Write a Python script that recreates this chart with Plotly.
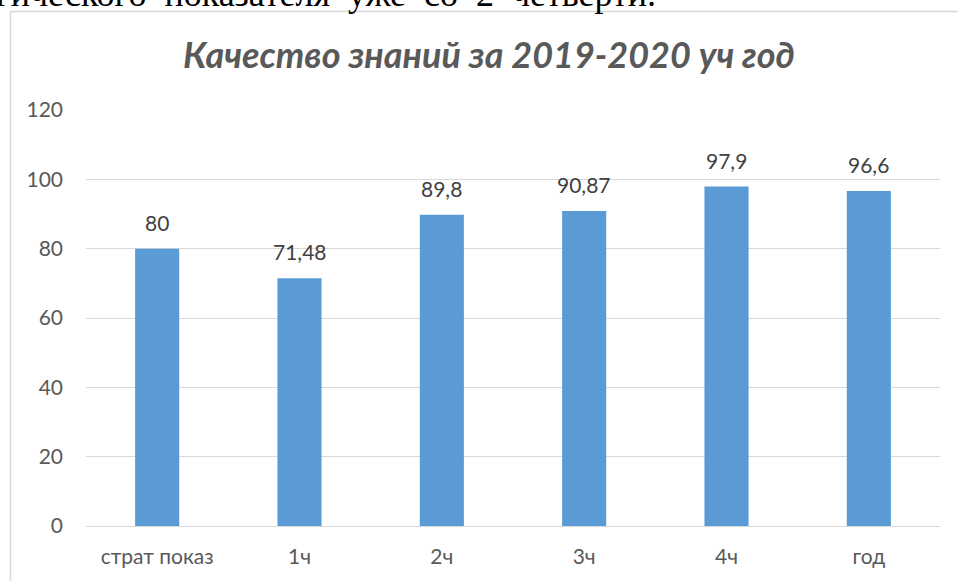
import plotly.graph_objects as go

# данные диаграммы
categories = ["страт показ", "1ч", "2ч", "3ч", "4ч", "год"]
values = [80, 71.48, 89.8, 90.87, 97.9, 96.6]
labels = ["80", "71,48", "89,8", "90,87", "97,9", "96,6"]
y_ticks = [0, 20, 40, 60, 80, 100, 120]

W, H = 958, 581
L, R, T, B = 86, 18, 110, 55
pw, ph = W - L - R, H - T - B


# пиксели окна -> координаты paper
def px_x(x):
    return (x - L) / pw


def px_y(y):
    return (H - B - y) / ph


fig = go.Figure(go.Bar(
    x=categories, y=values, width=0.31,
    marker=dict(color="#5B9BD5", line=dict(width=0)),
    hoverinfo="skip",
))

# подписи значений над столбцами
for c, v, t in zip(categories, values, labels):
    fig.add_annotation(x=c, y=v, text=t, showarrow=False, yanchor="bottom", yshift=12,
                       font=dict(family="Lato", size=21, color="#404040"))

# заголовок
fig.add_annotation(xref="paper", yref="paper", x=px_x(489), y=px_y(54), text="<b><i>Качество знаний за 2019-2020 уч год</i></b>",
                   showarrow=False, xanchor="center", yanchor="middle",
                   font=dict(family="Lato", size=36, color="#595959"))

# обрезанный текст документа сверху (строка выровнена по ширине -> пробелы шире)
doc_line = "стратегического показателя уже со 2 четверти.".replace(" ", " \u00a0")
fig.add_annotation(xref="paper", yref="paper", x=px_x(658), y=px_y(-6),
                   text=doc_line,
                   showarrow=False, xanchor="right", yanchor="middle",
                   font=dict(family="Liberation Serif", size=36, color="#000000"))

# рамка области диаграммы
fig.add_shape(type="rect", xref="paper", yref="paper",
              x0=px_x(10.5), x1=px_x(1000), y0=px_y(11.5), y1=px_y(650),
              line=dict(color="#D9D9D9", width=1.5), fillcolor="rgba(0,0,0,0)", layer="below")

fig.update_layout(
    width=W, height=H,
    margin=dict(l=L, r=R, t=T, b=B, autoexpand=False),
    paper_bgcolor="white", plot_bgcolor="white",
    showlegend=False,
    font=dict(family="Lato", size=21, color="#595959"),
    xaxis=dict(type="category", showgrid=False, showline=False, ticks="", automargin=False,
               ticklabelstandoff=16, tickfont=dict(size=21, color="#595959")),
    yaxis=dict(range=[0, 120], tickvals=y_ticks, showgrid=True, gridcolor="#D9D9D9", gridwidth=1.3,
               zeroline=True, zerolinecolor="#D9D9D9", zerolinewidth=1.3, showline=False, ticks="",
               automargin=False, ticklabelstandoff=22, tickfont=dict(size=21, color="#595959")),
)

# убираем отступ body, чтобы фигура начиналась в левом верхнем углу окна
fig.write_html("out.html", config={"displayModeBar": False},
               post_script="document.body.style.margin='0';")
